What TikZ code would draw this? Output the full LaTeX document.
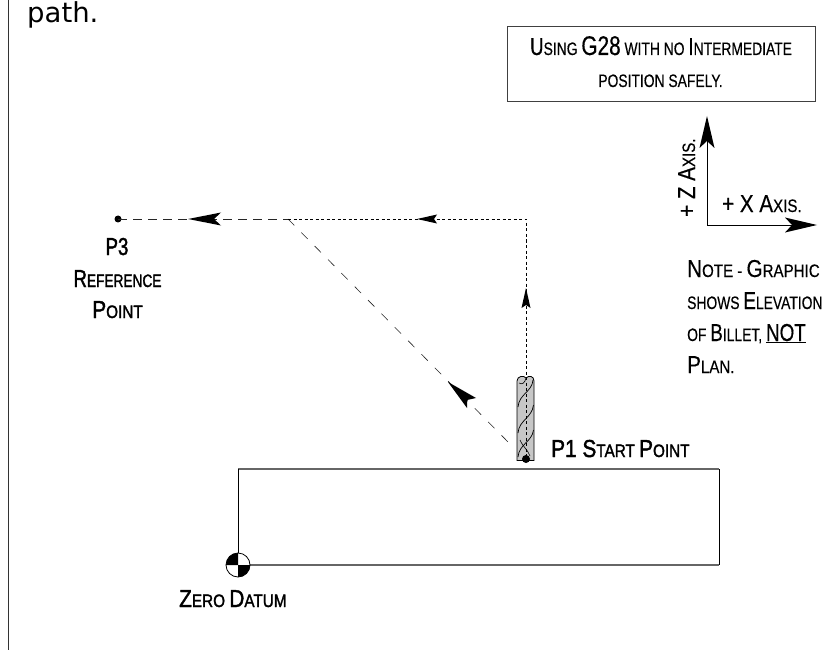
\documentclass[tikz,border=0pt]{standalone}
\usepackage{fontspec}
\setmainfont{Liberation Sans}[FakeStretch=0.77,FakeBold=0.4]
\newfontfamily\pathfont{DejaVu Sans}
\newfontfamily\widefont{Liberation Sans}[FakeStretch=0.84,FakeBold=0.4]
\newfontfamily\boldlab{Liberation Sans}[FakeStretch=0.76,FakeBold=1.6]
\newfontfamily\boldwide{Liberation Sans}[FakeStretch=0.85,FakeBold=1.6]
\newcommand{\capsz}[2]{{\fontsize{#1}{#1}\selectfont #2}}
\tikzset{
  txt/.style={inner sep=0pt,anchor=base west,text=black,font=\fontsize{18}{18}\selectfont},
  txtc/.style={inner sep=0pt,anchor=base,text=black,font=\fontsize{18}{18}\selectfont},
  dashpath/.style={draw=black!85,line width=0.6pt,dash pattern=on 9pt off 6pt},
  diagpath/.style={draw=black!85,line width=0.6pt,dash pattern=on 9pt off 10pt},
  dotpath/.style={draw=black,line width=0.7pt,dash pattern=on 3pt off 2.5pt},
  hd/.style={fill=black,draw=none},
  frame/.style={draw=black!75,line width=1pt},
}
\newcommand{\Bg}[1]{\capsz{24.5}{#1}}
\newcommand{\Sm}[1]{\capsz{18}{#1}}
\begin{document}
\begin{tikzpicture}[x=1pt,y=-1pt]
\useasboundingbox (0,0) rectangle (836,650);
% left rule
\coordinate (lt) at (8,0); \coordinate (lb) at (8,650);
\draw[black!80,line width=1pt] (lt) -- (lb);
\node[txt] (path) at (27,23) {\pathfont\fontsize{27.5}{27.5}\selectfont path.};
% title box
\node[frame,minimum width=308pt,minimum height=75pt,anchor=north west,inner sep=0pt] (box) at (507,26.5) {};
\node[txtc] (t1) at (661,55) {\Bg{U}\Sm{SING} \capsz{27}{G28} \Sm{WITH NO} \Bg{I}\Sm{NTERMEDIATE}};
\node[txtc] (t2) at (660.5,87) {\Sm{POSITION SAFELY.}};
% axes
\coordinate (o) at (707,225);
\coordinate (zt) at (707,116);
\coordinate (xt) at (817,225);
\draw[black,line width=0.7pt] (o) -- (707,140) (o) -- (795,225);
\fill[hd] (zt) -- (714.5,148) -- (707,141) -- (699.5,148) -- cycle;
\fill[hd] (xt) -- (785,232.5) -- (792,225) -- (785,217.5) -- cycle;
\node[txt,rotate=90] (zl) at (695,217) {\widefont\Bg{+ Z A}\Sm{XIS.}};
\node[txt] (xl) at (722,212) {\widefont\Bg{+ X A}\Sm{XIS.}};
% note
\node[txt] (n1) at (687,277) {\widefont\Bg{N}\Sm{OTE} \Sm{-} \Bg{G}\Sm{RAPHIC}};
\node[txt] (n2) at (687,309) {\Sm{SHOWS} \Bg{E}\Sm{LEVATION}};
\node[txt] (n3) at (687,341) {\Sm{OF} \Bg{B}\Sm{ILLET,} \Bg{\underline{NOT}}};
\node[txt] (n4) at (687,373) {\widefont\Bg{P}\Sm{LAN.}};
% billet
\coordinate (bl) at (238,565); \coordinate (tl) at (238,469);
\coordinate (tr) at (719,469); \coordinate (br) at (719,565);
\draw[black!60,line width=1.4pt] (tl) -- (tr);
\draw[black!60,line width=1.4pt] (bl) -- (br);
\draw[black,line width=0.7pt] (tl) -- (bl);
\draw[black,line width=0.7pt] (tr) -- (br);
% datum
\draw[black,line width=0.8pt,fill=white] (bl) circle (12);
\fill[black] (bl) -- (226,565) arc (180:270:12) -- cycle;
\fill[black] (bl) -- (250,565) arc (0:90:12) -- cycle;
\node[txt] (zd) at (179,607) {\boldwide\Bg{Z}\Sm{ERO} \Bg{D}\Sm{ATUM}};
% tool
\coordinate (p1) at (526,459);
\filldraw[fill=black!22,draw=black,line width=0.8pt] (517,381) .. controls (517,376) and (524,375) .. (526,378) .. controls (529,375) and (534,376) .. (534,381) -- (534,460.5) -- (517,460.5) -- cycle;
\draw[black,line width=0.6pt] (519,383) .. controls (522,385) and (525,383) .. (526,378);
\draw[black,line width=0.7pt] (533,380) .. controls (532,392) and (519,394) .. (518,407);
\draw[black,line width=0.7pt] (533.5,405) .. controls (532,418) and (519,420) .. (518,433);
\draw[black,line width=0.7pt] (533.5,430) .. controls (532,442) and (519,444) .. (518,457);
\draw[black,line width=0.6pt] (520,440) .. controls (523,447) and (528,450) .. (530,456);
\fill[black] (p1) circle (4);
% paths
\coordinate (p3) at (118,219);
\coordinate (mid) at (288,219);
\coordinate (cn) at (526,219);
\fill[black] (p3) circle (3.5);
\draw[dashpath] (p3) -- (mid);
\draw[diagpath] (mid) -- (511,445);
\draw[dotpath] (mid) -- (cn) -- (p1);
\fill[hd] (188,219) -- (221,212.5) -- (214,219) -- (221,225.5) -- cycle;
\fill[hd] (417,219) -- (437,214.5) -- (434,219) -- (437,223.5) -- cycle;
\fill[hd] (526,288) -- (530.5,308) -- (526,305) -- (521.5,308) -- cycle;
\fill[hd] (448,382) -- (476,398) -- (467,400) -- (467,408) -- cycle;
\node[txtc] (p3a) at (117,255) {\boldlab\Bg{P3}};
\node[txtc] (p3b) at (117.5,287) {\boldlab\Bg{R}\Sm{EFERENCE}};
\node[txtc] (p3c) at (117.5,318) {\boldwide\Bg{P}\Sm{OINT}};
\node[txt] (p1l) at (551,457) {\boldwide\Bg{P1 S}\Sm{TART} \Bg{P}\Sm{OINT}};
\end{tikzpicture}
\end{document}
